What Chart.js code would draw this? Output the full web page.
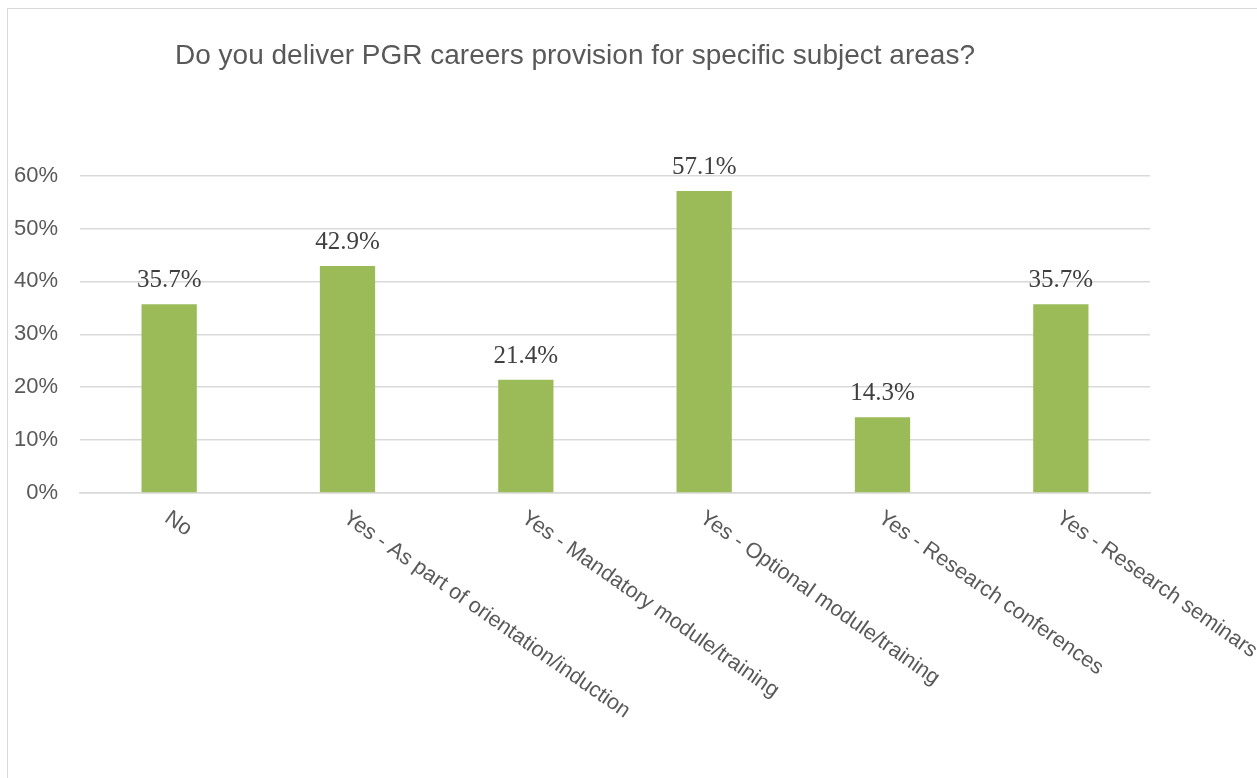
<!DOCTYPE html>
<html>
<head>
<meta charset="utf-8">
<script src="https://cdn.jsdelivr.net/npm/chart.js@4/dist/chart.umd.min.js"></script>
<style>
  html, body { margin: 0; padding: 0; overflow: hidden; background: #fff; }
  #frame {
    position: absolute; left: 7px; top: 8px;
    width: 1400px; height: 900px;
    border: 1px solid #d9d9d9;
  }
  #wrap { position: absolute; left: 0; top: 0; width: 1257px; height: 778px; }
</style>
</head>
<body>
<div id="frame"></div>
<div id="wrap"><canvas id="stat-chart"></canvas></div>
<script>
const categories = [
  "No",
  "Yes - As part of orientation/induction",
  "Yes - Mandatory module/training",
  "Yes - Optional module/training",
  "Yes - Research conferences",
  "Yes - Research seminars",
];
const percentages = [35.7, 42.9, 21.4, 57.1, 14.3, 35.7];
const yTicks = [0, 10, 20, 30, 40, 50, 60];

const textGrey = "#595959";

// value labels above each bar
const barLabels = {
  id: "barLabels",
  afterDatasetsDraw(chart) {
    const ctx = chart.ctx;
    const meta = chart.getDatasetMeta(0);
    ctx.save();
    ctx.font = "25px 'Liberation Serif', 'Times New Roman', serif";
    ctx.fillStyle = "#404040";
    ctx.textAlign = "center";
    ctx.textBaseline = "alphabetic";
    meta.data.forEach((bar, i) => {
      ctx.fillText(percentages[i].toFixed(1) + "%", bar.x, bar.y - 17);
    });
    ctx.restore();
  },
};

// slanted category labels, reading downwards from the tick
const slantLabels = {
  id: "slantLabels",
  afterDraw(chart) {
    const ctx = chart.ctx;
    const xScale = chart.scales.x;
    const angle = (35 * Math.PI) / 180;
    ctx.save();
    ctx.font = "21.5px 'Liberation Sans', Arial, sans-serif";
    ctx.fillStyle = textGrey;
    ctx.textAlign = "left";
    ctx.textBaseline = "top";
    categories.forEach((label, i) => {
      const x = xScale.getPixelForTick(i);
      ctx.save();
      ctx.translate(x + 4, xScale.top + 14);
      ctx.rotate(angle);
      ctx.fillText(label, 0, 0);
      ctx.restore();
    });
    ctx.restore();
  },
};

new Chart(document.getElementById("stat-chart").getContext("2d"), {
  type: "bar",
  data: {
    labels: categories,
    datasets: [
      {
        data: percentages,
        backgroundColor: "#9bbb59",
        categoryPercentage: 1,
        barPercentage: 0.31,
      },
    ],
  },
  options: {
    responsive: true,
    maintainAspectRatio: false,
    animation: false,
    layout: { padding: { left: 0, right: 107, top: 0, bottom: 0 } },
    plugins: {
      legend: { display: false },
      tooltip: { enabled: false },
      title: {
        display: true,
        text: "Do you deliver PGR careers provision for specific subject areas?",
        color: textGrey,
        font: { family: "'Liberation Sans', Arial, sans-serif", size: 28, weight: "normal", lineHeight: 1.2 },
        padding: { top: 39, bottom: 103 },
      },
    },
    scales: {
      x: {
        grid: { display: false },
        border: { display: true, color: "#d9d9d9", width: 1.5 },
        ticks: { display: false },
        afterFit(scale) {
          scale.height = 285;
        },
      },
      y: {
        min: yTicks[0],
        max: yTicks[yTicks.length - 1],
        afterBuildTicks(scale) {
          scale.ticks = yTicks.map((v) => ({ value: v }));
        },
        grid: { color: "#d9d9d9", lineWidth: 1.5, drawTicks: false },
        border: { display: false },
        ticks: {
          color: textGrey,
          padding: 22,
          font: { family: "'Liberation Sans', Arial, sans-serif", size: 22 },
          callback: (v) => v + "%",
        },
        afterFit(scale) {
          scale.width = 80;
        },
      },
    },
  },
  plugins: [barLabels, slantLabels],
});
</script>
</body>
</html>
